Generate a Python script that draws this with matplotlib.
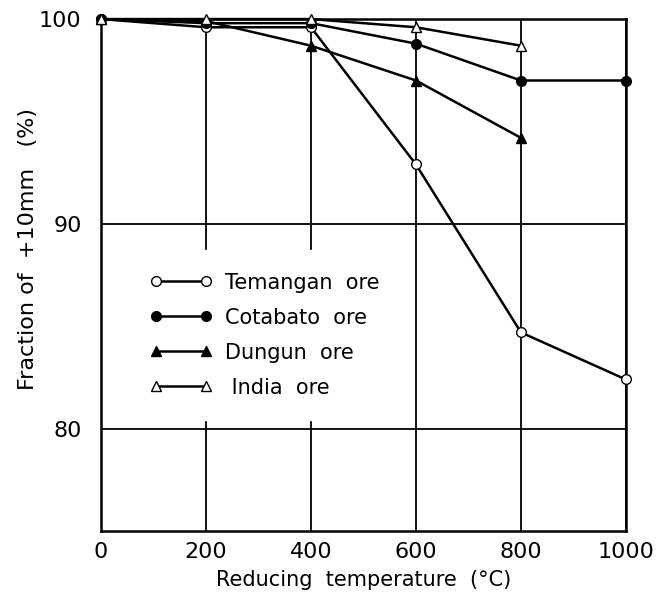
import matplotlib
matplotlib.use('Agg')
import matplotlib.pyplot as plt

# reducing temperature (deg C)
temps = [0, 200, 400, 600, 800, 1000]
temps_short = [0, 200, 400, 600, 800]

# fraction of +10mm (%)
temangan = [100, 99.6, 99.6, 92.9, 84.7, 82.4]
cotabato = [100, 99.8, 99.8, 98.8, 97.0, 97.0]
dungun = [100, 99.9, 98.7, 97.0, 94.2]
india = [100, 100, 100, 99.6, 98.7]

xticks = [0, 200, 400, 600, 800, 1000]
yticks = [80, 90, 100]

fig = plt.figure(figsize=(6.57, 5.96), dpi=100)
ax = fig.add_axes([0.1537, 0.109, 0.799, 0.859])

lw = 1.8
ms = 7
ax.plot(temps, temangan, '-o', color='black', mfc='white', mec='black', lw=lw, ms=ms,
        clip_on=False, zorder=3, label='Temangan  ore')
ax.plot(temps, cotabato, '-o', color='black', mfc='black', lw=lw, ms=ms,
        clip_on=False, zorder=3, label='Cotabato  ore')
ax.plot(temps_short, dungun, '-^', color='black', mfc='black', lw=lw, ms=ms,
        clip_on=False, zorder=3, label='Dungun  ore')
ax.plot(temps_short, india, '-^', color='black', mfc='white', mec='black', lw=lw, ms=ms,
        clip_on=False, zorder=3, label=' India  ore')

ax.set_xlim(0, 1000)
ax.set_ylim(75, 100)
ax.set_xticks(xticks)
ax.set_yticks(yticks)
ax.tick_params(length=0, labelsize=16)
ax.tick_params(axis='x', pad=8)
ax.tick_params(axis='y', pad=14)
ax.grid(True, color='black', lw=1.3)
ax.set_axisbelow(True)
for s in ax.spines.values():
    s.set_linewidth(1.8)

ax.set_xlabel('Reducing  temperature  (°C)', fontsize=15, labelpad=6)
ax.set_ylabel('Fraction of  +10mm   (%)', fontsize=16)
ax.yaxis.set_label_coords(-0.12, 0.55)

leg = ax.legend(loc='upper left', bbox_to_anchor=(0.03, 0.57), numpoints=2,
                fontsize=15, handlelength=3.0, handletextpad=0.6, labelspacing=0.72,
                borderpad=1.1, frameon=True, fancybox=False, framealpha=1,
                facecolor='white', edgecolor='white')

fig.savefig('out.png', dpi=100)
